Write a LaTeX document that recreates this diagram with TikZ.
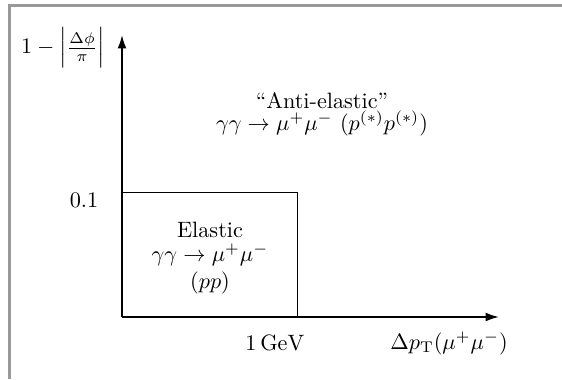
\documentclass[tikz,border=0pt]{standalone}
\usepackage{amsmath,amssymb}
\usepackage{tikz}
\usepackage{xcolor}
\usetikzlibrary{arrows.meta}

\begin{document}
\begin{tikzpicture}[x=0.45pt,y=-0.45pt,every node/.style={font=\normalsize},
  axis/.style={line width=0.8pt,-{Latex[length=6pt,width=4pt]}},
  region/.style={line width=0.45pt}]
\useasboundingbox (0,0) rectangle (562,379);
% frame
\draw[gray!80,line width=1pt] (9.5,379) -- (9.5,5.5) -- (562,5.5);
% axes
\coordinate (O) at (122,317);
\coordinate (xend) at (499,317);
\coordinate (yend) at (122,35);
\draw[axis] (O) -- (xend);
\draw[axis] (O) -- (yend);
% elastic region
\coordinate (cut) at (297,192);
\draw[region] (O |- cut) -- (cut) -- (cut |- O);
\node (ylab) at (63,48) {$1-\left|\frac{\Delta\phi}{\pi}\right|$};
\node[anchor=east] (ytick) at (106,200) {$0.1$};
\node (xtick) at (275,343) {$1\,\mathrm{GeV}$};
\node (xlab) at (449,343) {$\Delta p_{\mathrm{T}}(\mu^+\mu^-)$};
\node[align=center] (elastic) at (210,258) {Elastic\\[-1pt]$\gamma\gamma\to\mu^+\mu^-$\\[0pt]$(pp)$};
\node[align=center] (anti) at (322,114) {``Anti-elastic''\\[-2pt]$\gamma\gamma\to\mu^+\mu^-\ (p^{(*)}p^{(*)})$};
\end{tikzpicture}
\end{document}
